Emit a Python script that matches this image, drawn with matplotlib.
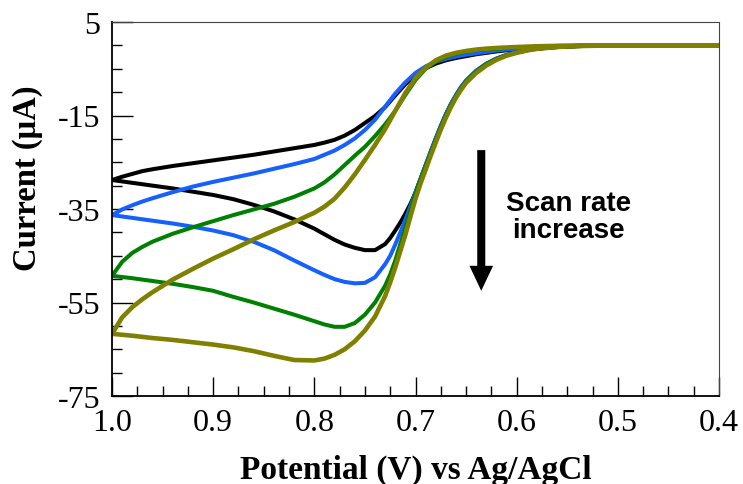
import numpy as np
import matplotlib
matplotlib.use('Agg')
import matplotlib.pyplot as plt
from matplotlib.ticker import MultipleLocator

plt.rcParams['axes.unicode_minus'] = False
plt.rcParams['font.family'] = ['Liberation Serif', 'DejaVu Serif']

# forward sweep 1.0 -> 0.4 V (branch with the cathodic peak)
v_fwd = [1.0, 0.98, 0.96, 0.94, 0.92, 0.90, 0.88, 0.86, 0.84, 0.82, 0.80, 0.79, 0.78, 0.77,
         0.76, 0.75, 0.74, 0.73, 0.725, 0.72, 0.715, 0.71, 0.705, 0.70, 0.695, 0.69, 0.685,
         0.68, 0.675, 0.67, 0.665, 0.66, 0.655, 0.65, 0.64, 0.63, 0.62, 0.61, 0.60, 0.59,
         0.58, 0.56, 0.54, 0.52, 0.50, 0.45, 0.40]
# reverse sweep 0.4 -> 1.0 V
v_rev = [0.40, 0.45, 0.50, 0.52, 0.54, 0.56, 0.58, 0.60, 0.62, 0.63, 0.64, 0.65, 0.66, 0.67,
         0.68, 0.69, 0.70, 0.71, 0.72, 0.73, 0.74, 0.75, 0.76, 0.77, 0.78, 0.79, 0.80, 0.82,
         0.84, 0.86, 0.88, 0.90, 0.92, 0.94, 0.96, 0.97, 0.98, 0.99, 1.0]

black_fwd = [-28.8, -29.4, -30.0, -30.6, -31.3, -32.0, -32.9, -34.1, -35.5, -37.2, -39.2, -40.4,
             -41.6, -42.6, -43.3, -43.8, -43.8, -42.5, -41.2, -39.6, -37.9, -36.0, -33.9, -31.5,
             -28.6, -25.7, -22.8, -20.0, -17.3, -14.8, -12.6, -10.7, -9.0, -7.6, -5.5, -4.0,
             -2.9, -2.1, -1.5, -1.05, -0.7, -0.35, -0.15, -0.07, -0.03, 0.0, 0.0]
black_rev = [0.0, 0.0, -0.04, -0.08, -0.15, -0.3, -0.5, -0.8, -1.3, -1.6, -1.9, -2.3, -2.7,
             -3.2, -3.9, -4.9, -6.4, -8.3, -10.7, -13.2, -15.1, -16.6, -18.1, -19.3, -20.2,
             -20.8, -21.3, -22.0, -22.7, -23.4, -24.0, -24.6, -25.2, -25.8, -26.5, -26.9,
             -27.5, -28.1, -28.8]

blue_fwd = [-36.3, -36.9, -37.5, -38.1, -38.8, -39.6, -40.6, -42.0, -43.8, -46.0, -48.1, -49.1,
            -50.0, -50.6, -50.9, -50.8, -49.6, -46.8, -45.0, -42.6, -40.0, -37.3, -34.4, -31.4,
            -28.5, -25.6, -22.7, -19.9, -17.2, -14.7, -12.5, -10.6, -8.9, -7.5, -5.4, -3.9,
            -2.8, -2.0, -1.45, -1.0, -0.7, -0.35, -0.15, -0.07, -0.03, 0.0, 0.0]
blue_rev = [0.0, 0.0, -0.03, -0.06, -0.12, -0.25, -0.4, -0.7, -1.1, -1.4, -1.7, -2.0, -2.4,
            -2.9, -3.5, -4.5, -5.9, -7.9, -10.3, -13.1, -15.9, -18.1, -19.9, -21.3, -22.5,
            -23.4, -24.3, -25.4, -26.4, -27.4, -28.3, -29.2, -30.2, -31.4, -32.7, -33.4,
            -34.2, -35.1, -36.3]

green_fwd = [-49.3, -49.8, -50.4, -51.0, -51.7, -52.5, -53.8, -55.0, -56.3, -57.6, -59.0, -59.7,
             -60.2, -60.2, -59.4, -57.6, -55.0, -51.4, -49.0, -46.0, -42.5, -39.0, -35.3, -31.6,
             -28.6, -25.8, -23.0, -20.2, -17.5, -15.0, -12.8, -10.9, -9.2, -7.7, -5.6, -4.0,
             -2.9, -2.1, -1.5, -1.05, -0.7, -0.35, -0.15, -0.07, -0.03, 0.0, 0.0]
green_rev = [0.0, 0.0, -0.02, -0.03, -0.06, -0.12, -0.25, -0.45, -0.7, -0.85, -1.0, -1.35, -1.8,
             -2.5, -3.5, -5.0, -7.4, -10.6, -14.0, -16.9, -19.4, -21.7, -23.6, -25.6, -27.6,
             -29.3, -30.6, -32.4, -33.9, -35.1, -36.3, -37.6, -38.9, -40.3, -42.0, -43.1,
             -44.4, -46.3, -49.3]

olive_fwd = [-61.7, -62.1, -62.6, -63.0, -63.5, -64.0, -64.6, -65.4, -66.4, -67.3, -67.4, -67.0,
             -66.2, -65.0, -63.3, -61.0, -58.0, -53.6, -50.7, -47.5, -44.0, -40.5, -36.6, -32.8,
             -29.5, -26.6, -23.6, -20.8, -18.0, -15.5, -13.2, -11.2, -9.5, -8.0, -5.9, -4.3,
             -3.1, -2.2, -1.6, -1.1, -0.75, -0.35, -0.15, -0.07, -0.03, 0.0, 0.0]
olive_rev = [0.0, 0.0, 0.0, 0.0, -0.05, -0.1, -0.2, -0.35, -0.55, -0.7, -0.9, -1.2, -1.6, -2.2,
             -3.2, -4.8, -7.0, -10.2, -14.0, -17.9, -21.3, -24.5, -27.6, -30.4, -32.8, -34.5,
             -35.8, -37.8, -39.6, -41.5, -43.6, -45.6, -47.8, -50.1, -52.8, -54.3, -56.0,
             -58.2, -61.7]

curves = [
    (black_fwd, black_rev, 'black', 2.9),
    (blue_fwd, blue_rev, '#1560ff', 2.9),
    (green_fwd, green_rev, '#008000', 2.9),
    (olive_fwd, olive_rev, '#808000', 3.3),
]

fig = plt.figure(figsize=(7.43, 4.85), dpi=100)
ax = fig.add_axes([112/743, 1 - 397/485, 607/743, 374/485])

for fwd, rev, c, lw in curves:
    ax.plot(v_fwd + v_rev, fwd + rev, color=c, lw=lw, solid_capstyle='round',
            solid_joinstyle='round')

ax.set_xlim(1.0, 0.4)
ax.set_ylim(-75, 5)
ax.xaxis.set_major_locator(MultipleLocator(0.1))
ax.xaxis.set_minor_locator(MultipleLocator(0.025))
ax.set_yticks([5, -15, -35, -55, -75])
ax.yaxis.set_minor_locator(MultipleLocator(5))
ax.xaxis.set_major_formatter(plt.FormatStrFormatter('%.1f'))

ax.tick_params(which='both', direction='in', top=False, right=False, labelsize=23, width=1.0)
ax.tick_params(axis='y', which='major', length=15, pad=8.5)
ax.tick_params(axis='y', which='minor', length=7)
ax.tick_params(axis='x', which='major', length=14, pad=9)
ax.tick_params(axis='x', which='minor', length=7)

for s in ['left', 'bottom']:
    ax.spines[s].set_linewidth(1.3)
for s in ['top', 'right']:
    ax.spines[s].set_linewidth(0.8)
    ax.spines[s].set_color('#444444')

ax.set_xlabel('Potential (V) vs Ag/AgCl', fontsize=24, fontweight='bold')
ax.set_ylabel('Current (μA)', fontsize=23.5, fontweight='bold')
ax.xaxis.set_label_coords(0.5, -0.155)
ax.yaxis.set_label_coords(-0.114, 0.586)

ax.annotate('', xy=(0.635, -52.5), xytext=(0.635, -22.4),
            arrowprops=dict(arrowstyle='simple,head_length=0.9,head_width=0.85,tail_width=0.29',
                            color='black', lw=0, shrinkA=0, shrinkB=0, mutation_scale=20))
ax.text(0.549, -36.7, 'Scan rate\nincrease', ha='center', va='center', fontsize=20,
        fontweight='bold', family=['Liberation Sans', 'DejaVu Sans'], linespacing=1.05)

fig.savefig('out.png', dpi=100)
